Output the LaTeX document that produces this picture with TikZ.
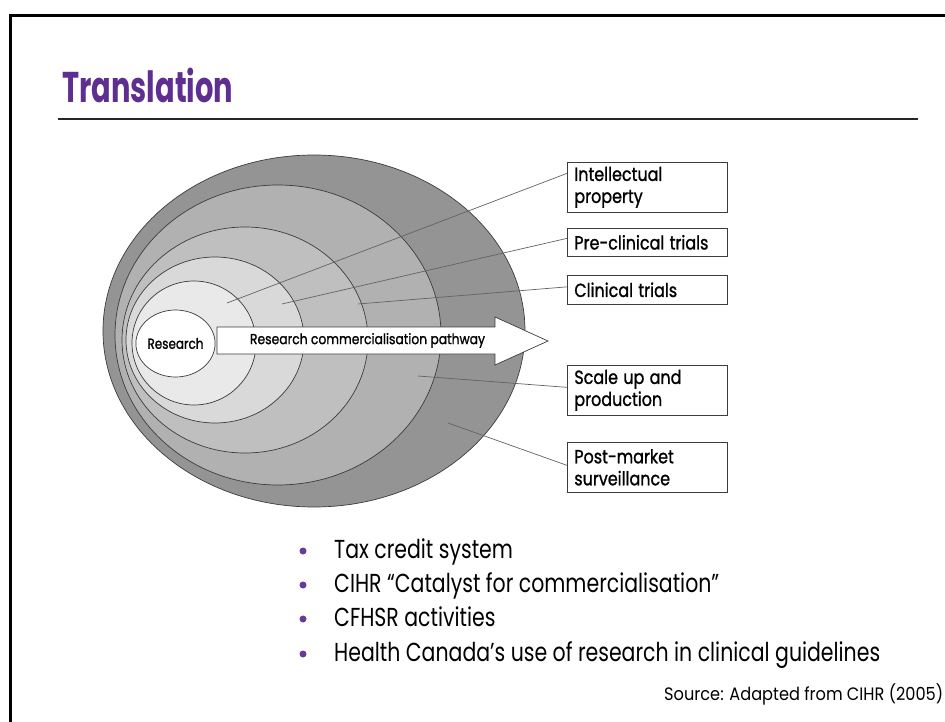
\documentclass[tikz,border=0pt]{standalone}
\usepackage{fontspec}
\setmainfont{Poppins}
\newfontface\medface{Poppins}[RawFeature={embolden=1.2}]
\usepackage{graphicx}
\usetikzlibrary{shapes.geometric}
\definecolor{ttlpurple}{RGB}{94,47,145}
\definecolor{dotpurple}{RGB}{106,58,154}
\definecolor{g1}{RGB}{148,148,148}
\definecolor{g2}{RGB}{177,177,177}
\definecolor{g3}{RGB}{191,191,191}
\definecolor{g4}{RGB}{217,217,217}
\definecolor{g5}{RGB}{233,233,233}
\definecolor{edge}{RGB}{60,60,60}
\newlength\fitw
\newcommand\fitto[3]{\settowidth\fitw{#3}\pgfmathsetmacro#1{#2/\fitw}}
\newcommand\sx[2]{\scalebox{#1}[1]{#2}}
\def\bodyfont{\fontsize{26}{34}\selectfont}
\def\boxfont{\medface\fontsize{19}{22}\selectfont}
\def\srcfont{\fontsize{18}{20}\selectfont}
\def\titlefont{\fontsize{43}{46}\selectfont\bfseries}
\def\arrfont{\medface\fontsize{14.5}{16}\selectfont}
\tikzset{
  layer/.style={draw=edge, line width=0.7pt},
  lbox/.style={draw=edge, line width=0.7pt, fill=white, anchor=north west,
    minimum width=160pt, text width=146pt, inner xsep=7pt, inner ysep=0pt,
    align=left, font=\boxfont},
  leader/.style={draw=edge!80, line width=0.7pt},
  bullettxt/.style={anchor=base west, inner sep=0pt, font=\bodyfont},
  bdot/.style={circle, fill=dotpurple, inner sep=0pt, minimum size=7pt},
}
\begin{document}
\fitto\bsc{546}{\bodyfont Health Canada’s use of research in clinical guidelines}%
\fitto\lsc{133}{\boxfont Pre-clinical trials}%
\fitto\ssc{279}{\srcfont Source: Adapted from CIHR (2005)}%
\fitto\tsc{171}{\titlefont Translation}%
\fitto\asc{235}{\arrfont Research commercialisation pathway}%
\fitto\rsc{56}{\arrfont Research}%
\begin{tikzpicture}[x=1pt,y=-1pt]
\useasboundingbox (0,0) rectangle (945,722);
\fill[white] (0,0) rectangle (945,722);
% frame
\draw[line width=3.3pt] (10.7,760) -- (10.7,15.7) -- (980,15.7);
% title
\node[anchor=base west, inner sep=0pt, text=ttlpurple, font=\titlefont] (title) at (62,103) {\sx\tsc{Translation}};
\draw[line width=2pt, black!85] (58,119) -- (918,119);
% ellipses
\path[layer, fill=g1] (314,331) ellipse [x radius=211, y radius=176];
\path[layer, fill=g2] (278,335) ellipse [x radius=163, y radius=150];
\path[layer, fill=g3] (245,340) ellipse [x radius=123, y radius=113];
\path[layer, fill=g4] (215,340) ellipse [x radius=89, y radius=83];
\path[layer, fill=g5] (194,343) ellipse [x radius=62, y radius=62];
\node[draw=edge, line width=0.7pt, fill=white, ellipse, minimum width=73pt, minimum height=67pt, inner sep=0pt, font=\arrfont] (research) at (175.5,343.5) {\sx\rsc{Research}};
% arrow
\draw[draw=edge, line width=0.7pt, fill=white] (217,327) -- (495,327) -- (495,317) -- (548,341) -- (495,365) -- (495,354) -- (217,354) -- cycle;
\node[inner sep=0pt, font=\arrfont] (pathway) at (367.5,340.5) {\sx\asc{Research commercialisation pathway}};
% boxes
\node[lbox, minimum height=50pt] (ip) at (567,162) {\sx\lsc{Intellectual}\\\sx\lsc{property}};
\node[lbox, minimum height=28pt] (pre) at (567,228) {\sx\lsc{Pre-clinical trials}};
\node[lbox, minimum height=29pt] (cl) at (567,275) {\sx\lsc{Clinical trials}};
\node[lbox, minimum height=50pt] (sc) at (567,365) {\sx\lsc{Scale up and}\\\sx\lsc{production}};
\node[lbox, minimum height=50pt] (pm) at (567,442) {\sx\lsc{Post-market}\\\sx\lsc{surveillance}};
% leader lines
\coordinate (pip) at (227,303);
\coordinate (ppre) at (282,304);
\coordinate (pcl) at (358,304);
\coordinate (psc) at (418,376);
\coordinate (ppm) at (448,423);
\draw[leader] (pip) -- ([yshift=14pt]ip.west);
\draw[leader] (ppre) -- ([yshift=4pt]pre.west);
\draw[leader] (pcl) -- ([yshift=3pt]cl.west);
\draw[leader] (psc) -- ([yshift=3pt]sc.west);
\draw[leader] (ppm) -- ([yshift=2pt]pm.west);
% bullets
\node[bdot] (d1) at (303,551) {};
\node[bdot] (d2) at (303,585) {};
\node[bdot] (d3) at (303,619) {};
\node[bdot] (d4) at (303,654) {};
\node[bullettxt] (b1) at (334,558) {\sx\bsc{Tax credit system}};
\node[bullettxt] (b2) at (334,592) {\sx\bsc{CIHR “Catalyst for commercialisation”}};
\node[bullettxt] (b3) at (334,626) {\sx\bsc{CFHSR activities}};
\node[bullettxt] (b4) at (334,661) {\sx\bsc{Health Canada’s use of research in clinical guidelines}};
% source
\node[anchor=base west, inner sep=0pt, font=\srcfont] (src) at (664,700) {\sx\ssc{Source: Adapted from CIHR (2005)}};
\end{tikzpicture}
\end{document}
